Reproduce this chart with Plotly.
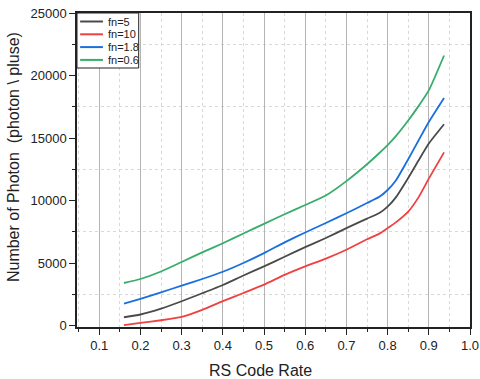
import plotly.graph_objects as go

# RS code rate (x) and photon counts
rate = [0.16, 0.2, 0.25, 0.3, 0.35, 0.4, 0.45, 0.5, 0.55, 0.6, 0.65,
        0.7, 0.75, 0.78, 0.8, 0.82, 0.85, 0.875, 0.9, 0.937]

fn5 = [660, 880, 1350, 1940, 2580, 3240, 4000, 4730, 5500, 6270, 7000,
       7790, 8550, 9000, 9510, 10250, 11800, 13200, 14560, 16100]
fn10 = [30, 210, 420, 690, 1250, 1950, 2600, 3270, 4050, 4730, 5350,
        6060, 6900, 7350, 7790, 8250, 9110, 10250, 11750, 13850]
fn18 = [1750, 2130, 2650, 3190, 3720, 4300, 5000, 5790, 6650, 7440, 8200,
        8980, 9800, 10300, 10840, 11600, 13300, 14800, 16280, 18200]
fn06 = [3400, 3720, 4320, 5080, 5850, 6580, 7360, 8130, 8900, 9640, 10400,
        11550, 12900, 13800, 14430, 15150, 16400, 17550, 18810, 21600]

series = [
    ("fn=5", fn5, "#4a4a4a"),
    ("fn=10", fn10, "#f14040"),
    ("fn=1.8", fn18, "#1a6fdf"),
    ("fn=0.6", fn06, "#37ad6b"),
]

FONT = "Liberation Sans, Arial, sans-serif"
TXT = "#222"

fig = go.Figure()
for name, vals, col in series:
    fig.add_trace(go.Scatter(
        x=rate, y=vals, mode="lines", name=name,
        line=dict(color=col, width=1.8, shape="spline", smoothing=0.5)
    ))

axis_common = dict(
    showline=True, linecolor=TXT, linewidth=1.5, mirror=True,
    ticks="outside", ticklen=6, tickwidth=1.2, tickcolor=TXT,
    tickfont=dict(family=FONT, size=13, color=TXT),
    zeroline=False, automargin=False, ticklabeloverflow="allow",
)

fig.update_xaxes(
    range=[0.046, 1.0], tick0=0.1, dtick=0.1, tickformat=".1f",
    showgrid=True, gridcolor="#b4b4b4", gridwidth=1,
    minor=dict(tick0=0.05, dtick=0.05, ticks="outside", ticklen=3,
               tickcolor=TXT, showgrid=True, gridcolor="#d8d8d8",
               griddash="dot", gridwidth=1),
    **axis_common
)
fig.update_yaxes(
    range=[-120, 25000], tick0=0, dtick=5000, tickformat="d",
    showgrid=False,
    minor=dict(tick0=2500, dtick=5000, ticks="outside", ticklen=3,
               tickcolor=TXT, showgrid=True, gridcolor="#d8d8d8",
               griddash="dot", gridwidth=1),
    **axis_common
)

# axis titles
fig.add_annotation(text="RS Code Rate", xref="paper", yref="paper",
                   x=0.468, y=-0.137, xanchor="center", yanchor="middle",
                   showarrow=False, font=dict(family=FONT, size=16, color=TXT))
fig.add_annotation(text="Number of Photon  (photon \\ pluse)", xref="paper", yref="paper",
                   x=-0.163, y=0.541, xanchor="center", yanchor="middle",
                   textangle=-90, showarrow=False,
                   font=dict(family=FONT, size=16, color=TXT))

# compact boxed legend in the top-left corner (Origin style)
plot_h = 314
fig.add_shape(type="rect", xref="paper", yref="paper",
              x0=0, x1=0.157, y0=1 - 55 / plot_h, y1=1,
              line=dict(color=TXT, width=1), fillcolor="white", layer="above")
for i, (name, vals, col) in enumerate(series):
    ly = 1 - (8.5 + 12.8 * i) / plot_h
    fig.add_shape(type="line", xref="paper", yref="paper",
                  x0=0.008, x1=0.066, y0=ly, y1=ly,
                  line=dict(color=col, width=2), layer="above")
    fig.add_annotation(text=name, xref="paper", yref="paper",
                       x=0.073, y=ly, xanchor="left", yanchor="middle",
                       showarrow=False,
                       font=dict(family=FONT, size=11, color=TXT))

fig.update_layout(
    width=480, height=379,
    margin=dict(l=77, r=10, t=13, b=52),
    plot_bgcolor="white", paper_bgcolor="white",
    showlegend=False,
)

# drop the default 8px page margin so the figure sits at the window corner
fig.write_html("out.html",
               config={"displayModeBar": False},
               post_script="document.body.style.margin='0';"
                           "document.body.style.overflow='hidden';")
